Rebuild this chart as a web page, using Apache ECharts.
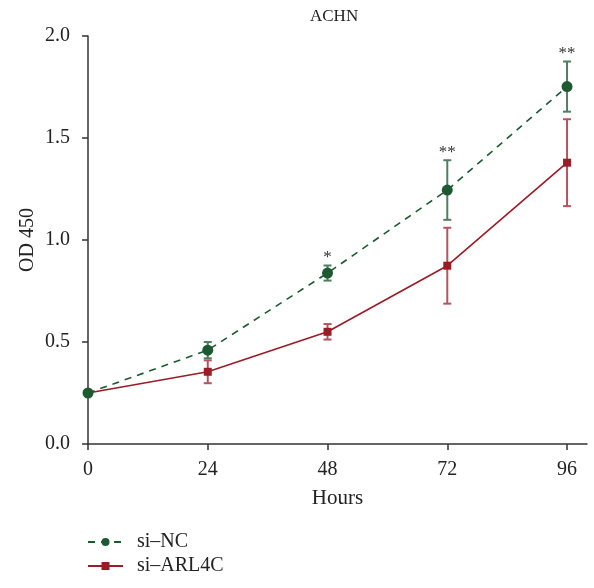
<!DOCTYPE html>
<html>
<head>
<meta charset="utf-8">
<script src="https://cdn.jsdelivr.net/npm/echarts@6/dist/echarts.min.js"></script>
<style>html,body{margin:0;padding:0;background:#fff}#c{width:594px;height:588px}</style>
</head>
<body>
<div id="c"></div>
<script>
const hours = [0, 24, 48, 72, 96];
const siNC = [0.25, 0.46, 0.838, 1.245, 1.752];
const siNCErr = [0, 0.04, 0.037, 0.146, 0.123];
const siARL4C = [0.25, 0.354, 0.55, 0.874, 1.379];
const siARL4CErr = [0, 0.056, 0.038, 0.186, 0.213];
const sigMarks = ['', '', '*', '**', '**'];
const xTicks = [0, 24, 48, 72, 96];
const seriesNames = ['si–NC', 'si–ARL4C'];
const titleText = 'ACHN';
const xName = 'Hours';
const yName = 'OD 450';

const FONT = "'Liberation Serif', 'DejaVu Serif', serif";
const GREEN = '#1d5a32';
const GREEN_ERR = '#4f7f5e';
const RED = '#9a1c26';
const RED_ERR = '#b4545c';

function errData(vals, errs, marks) {
  return hours.map((h, i) => [h, vals[i], errs[i], marks ? marks[i] : '']);
}

function errRender(color) {
  return function (params, api) {
    const x = api.value(0), y = api.value(1), e = api.value(2);
    const mark = api.value(3);
    const children = [];
    if (e > 0) {
      const top = api.coord([x, y + e]);
      const bot = api.coord([x, y - e]);
      const cap = 4;
      const st = { stroke: color, lineWidth: 2 };
      children.push({ type: 'line', shape: { x1: top[0], y1: top[1], x2: bot[0], y2: bot[1] }, style: st });
      children.push({ type: 'line', shape: { x1: top[0] - cap, y1: top[1], x2: top[0] + cap, y2: top[1] }, style: st });
      children.push({ type: 'line', shape: { x1: bot[0] - cap, y1: bot[1], x2: bot[0] + cap, y2: bot[1] }, style: st });
      if (mark && mark !== '0' && mark !== '') {
        children.push({ type: 'text', x: top[0], y: top[1] - 16,
          style: { text: mark, fill: '#333', font: '17px ' + FONT, align: 'center', verticalAlign: 'top' } });
      }
    }
    return { type: 'group', children };
  };
}

const chart = echarts.init(document.getElementById('c'), null, { renderer: 'canvas' });
chart.setOption({
  animation: false,
  backgroundColor: '#fff',
  textStyle: { fontFamily: FONT },
  title: {
    text: titleText, left: 305, top: 3,
    textStyle: { fontFamily: FONT, fontSize: 17, fontWeight: 'normal', color: '#222' }
  },
  graphic: [{
    type: 'text', x: 28, y: 240, rotation: Math.PI / 2,
    style: { text: yName, font: '20px ' + FONT, fill: '#222', align: 'center', verticalAlign: 'middle' }
  }],
  legend: {
    orient: 'vertical', left: 82, top: 527,
    itemWidth: 35, itemHeight: 10, itemGap: 4,
    data: seriesNames,
    textStyle: { fontFamily: FONT, fontSize: 20, color: '#222', padding: [0, 0, 0, 9] }
  },
  grid: { left: 88, right: 7, top: 36, bottom: 144, containLabel: false },
  xAxis: {
    type: 'value', min: 0, max: 100,
    name: xName, nameLocation: 'middle', nameGap: 44,
    nameTextStyle: { fontFamily: FONT, fontSize: 21, color: '#222', verticalAlign: 'top' },
    splitLine: { show: false },
    axisLine: { lineStyle: { color: '#333', width: 1.5 } },
    axisTick: { show: true, length: 6, customValues: xTicks, lineStyle: { color: '#333', width: 1.5 } },
    axisLabel: { customValues: xTicks, fontFamily: FONT, fontSize: 20, color: '#222', margin: 16 }
  },
  yAxis: {
    type: 'value', min: 0, max: 2, interval: 0.5,
    splitLine: { show: false },
    axisLine: { show: true, lineStyle: { color: '#333', width: 1.5 } },
    axisTick: { show: true, length: 6, lineStyle: { color: '#333', width: 1.5 } },
    axisLabel: { fontFamily: FONT, fontSize: 20, color: '#222', margin: 18, formatter: v => v.toFixed(1) }
  },
  series: [
    {
      name: seriesNames[0], type: 'line', z: 3,
      data: hours.map((h, i) => [h, siNC[i]]),
      symbol: 'circle', symbolSize: 11,
      lineStyle: { color: GREEN, width: 1.6, type: [7, 6] },
      itemStyle: { color: GREEN }
    },
    {
      name: seriesNames[1], type: 'line', z: 2,
      data: hours.map((h, i) => [h, siARL4C[i]]),
      symbol: 'rect', symbolSize: 8,
      lineStyle: { color: RED, width: 1.6 },
      itemStyle: { color: RED }
    },
    {
      type: 'custom', z: 1, silent: true,
      renderItem: errRender(RED_ERR),
      data: errData(siARL4C, siARL4CErr, null),
      encode: { x: 0, y: 1 }
    },
    {
      type: 'custom', z: 1, silent: true,
      renderItem: errRender(GREEN_ERR),
      data: errData(siNC, siNCErr, sigMarks),
      encode: { x: 0, y: 1 }
    }
  ]
});
</script>
</body>
</html>
